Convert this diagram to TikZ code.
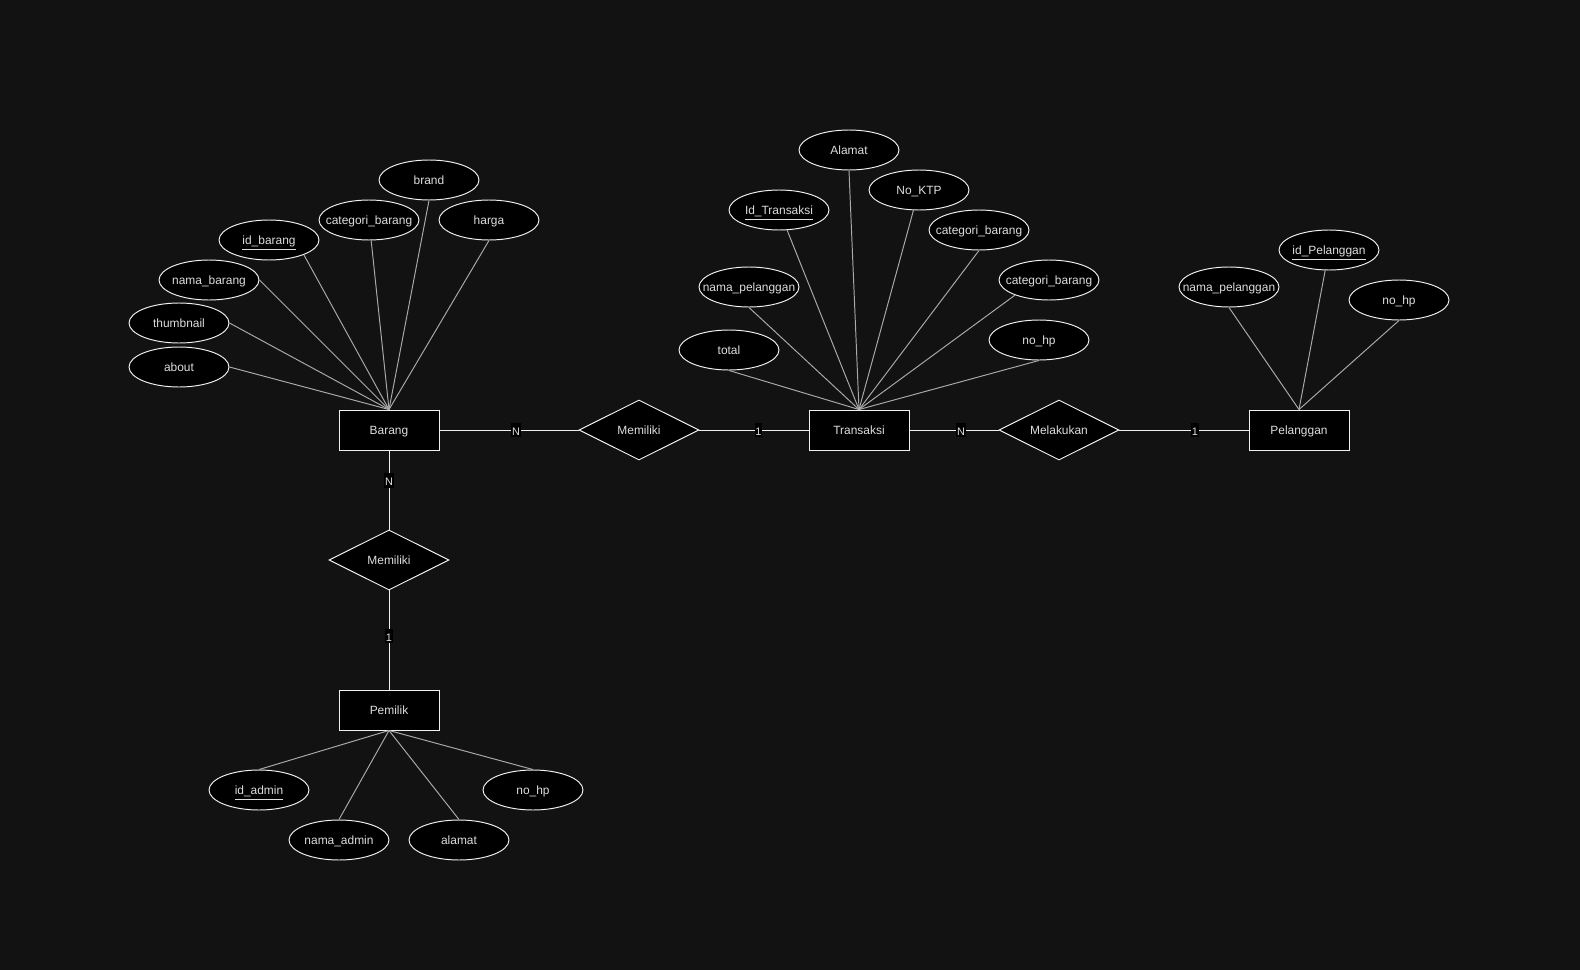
\documentclass[tikz,border=0pt]{standalone}
\usepackage{fontspec}
\setmainfont{Liberation Sans}
\definecolor{BgDark}{RGB}{18, 18, 18}
\definecolor{TextGray}{RGB}{222, 222, 222}
\definecolor{LineGray}{RGB}{170, 170, 170}
\definecolor{EdgeWhite}{RGB}{240, 240, 240}
\usepackage{tikz}
\usetikzlibrary{shapes.geometric}

\begin{document}
\begin{tikzpicture}[x=0.02cm, y=-0.02cm,
        every node/.style={font=\fontsize{6.8}{8}\selectfont, text=TextGray, text height=1.4ex, text depth=0.4ex},
        entity/.style={draw=EdgeWhite, fill=black, line width=0.55pt, minimum width=2cm, minimum height=0.8cm, inner sep=0pt},
        attr/.style={ellipse, draw=EdgeWhite, fill=black, line width=0.55pt, minimum width=2cm, minimum height=0.8cm, inner sep=0pt},
        relation/.style={diamond, draw=EdgeWhite, fill=black, line width=0.55pt, minimum width=2.4cm, minimum height=1.2cm, inner sep=0pt},
        attrline/.style={draw=LineGray, line width=0.55pt},
        rel/.style={draw=EdgeWhite, line width=0.55pt},
        card/.style={fill=black, inner sep=0.4pt, text height=1.35ex, text depth=0.1ex, font=\fontsize{6.2}{7}\selectfont}]
        % Background
        \fill[BgDark] (0, 0) rectangle (1580, 970);

        % Entities and relationships
        \node[entity] (barang) at (389, 430) {Barang};
        \node[relation, label=center:{Memiliki}] (memiliki) at (639, 430) {};
        \node[entity] (transaksi) at (859, 430) {Transaksi};
        \node[relation, label=center:{Melakukan}] (melakukan) at (1059, 430) {};
        \node[entity] (pelanggan) at (1299, 430) {Pelanggan};
        \node[relation, label=center:{Memiliki}] (memilikiB) at (389, 560) {};
        \node[entity] (pemilik) at (389, 710) {Pemilik};

        % Barang attributes
        \node[attr, label=center:{brand}] (brand) at (429, 180) {};
        \node[attr, label=center:{categori\_barang}] (catBarang) at (369, 220) {};
        \node[attr, label=center:{harga}] (harga) at (489, 220) {};
        \node[attr, label=center:{\underline{id\_barang}}] (idBarang) at (269, 240) {};
        \node[attr, label=center:{nama\_barang}] (namaBarang) at (209, 280) {};
        \node[attr, label=center:{thumbnail}] (thumb) at (179, 323) {};
        \node[attr, label=center:{about}] (about) at (179, 367) {};
        \foreach \a in {about.east, thumb.east, namaBarang.east, idBarang.-23, catBarang, brand.south, harga.south}
            \draw[attrline] (\a) -- (barang.north);

        % Transaksi attributes
        \node[attr, label=center:{Alamat}] (alamat) at (849, 150) {};
        \node[attr, label=center:{No\_KTP}] (noKtp) at (919, 190) {};
        \node[attr, label=center:{\underline{Id\_Transaksi}}] (idTrans) at (779, 210) {};
        \node[attr, label=center:{categori\_barang}] (catTransA) at (979, 230) {};
        \node[attr, label=center:{nama\_pelanggan}] (namaPelA) at (749, 287) {};
        \node[attr, label=center:{categori\_barang}] (catTransB) at (1049, 280) {};
        \node[attr, label=center:{total}] (total) at (729, 350) {};
        \node[attr, label=center:{no\_hp}] (noHpA) at (1039, 340) {};
        \foreach \a in {total.south, namaPelA.south, idTrans, alamat.south, noKtp, catTransA.south, catTransB.-156, noHpA.south}
            \draw[attrline] (\a) -- (transaksi.north);

        % Pelanggan attributes
        \node[attr, label=center:{\underline{id\_Pelanggan}}] (idPel) at (1329, 250) {};
        \node[attr, label=center:{nama\_pelanggan}] (namaPelB) at (1229, 287) {};
        \node[attr, label=center:{no\_hp}] (noHpB) at (1399, 300) {};
        \foreach \a in {namaPelB.south, idPel, noHpB.south}
            \draw[attrline] (\a) -- (pelanggan.north);

        % Pemilik attributes
        \node[attr, label=center:{\underline{id\_admin}}] (idAdmin) at (259, 790) {};
        \node[attr, label=center:{nama\_admin}] (namaAdmin) at (339, 840) {};
        \node[attr, label=center:{alamat}] (alamatAdmin) at (459, 840) {};
        \node[attr, label=center:{no\_hp}] (noHpC) at (533, 790) {};
        \foreach \a in {idAdmin, namaAdmin, alamatAdmin, noHpC}
            \draw[attrline] (pemilik.south) -- (\a.north);

        % Relationship lines
        \draw[rel] (barang) -- node[card, pos=0.55] {N} (memiliki);
        \draw[rel] (memiliki) -- node[card, pos=0.54] {1} (transaksi);
        \draw[rel] (transaksi) -- node[card, pos=0.58] {N} (melakukan);
        \draw[rel] (melakukan) -- node[card, pos=0.585] {1} (pelanggan);
        \draw[rel] (barang) -- node[card, pos=0.375] {N} (memilikiB);
        \draw[rel] (memilikiB) -- node[card, pos=0.46] {1} (pemilik);
    \end{tikzpicture}
\end{document}
